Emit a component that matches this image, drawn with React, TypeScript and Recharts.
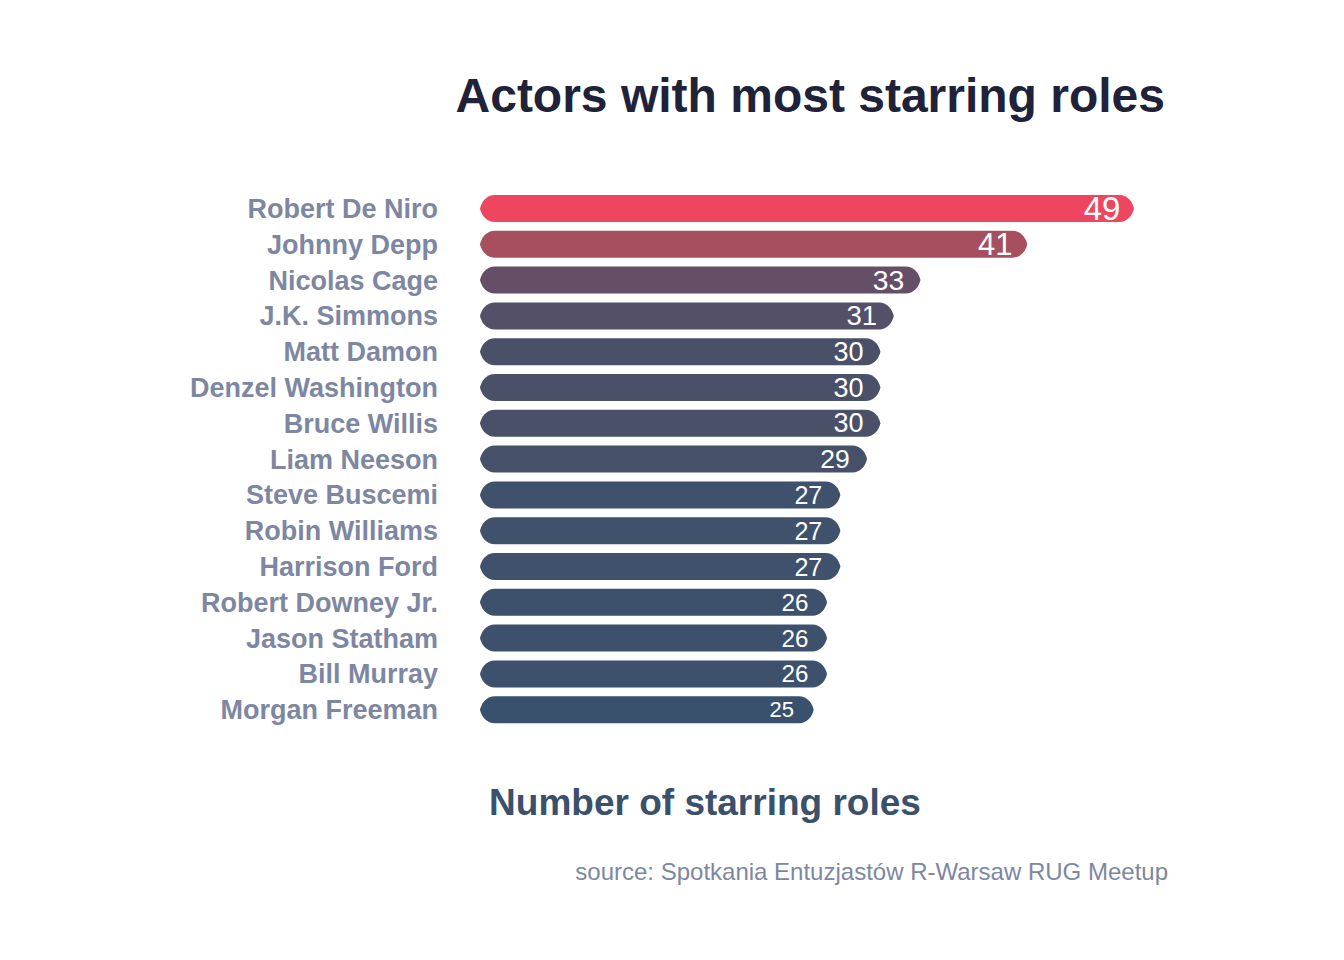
import React from "react";
import { BarChart, Bar, XAxis, YAxis, Cell } from "recharts";

const actors = [
  "Robert De Niro",
  "Johnny Depp",
  "Nicolas Cage",
  "J.K. Simmons",
  "Matt Damon",
  "Denzel Washington",
  "Bruce Willis",
  "Liam Neeson",
  "Steve Buscemi",
  "Robin Williams",
  "Harrison Ford",
  "Robert Downey Jr.",
  "Jason Statham",
  "Bill Murray",
  "Morgan Freeman",
];
const roles = [49, 41, 33, 31, 30, 30, 30, 29, 27, 27, 27, 26, 26, 26, 25];

const rows = actors.map((name, i) => ({ name, roles: roles[i] }));

const FONT = '"Liberation Sans", Arial, Helvetica, sans-serif';
const LABEL_GREY = "#7d87a2";

// fill gradient stops (value -> colour)
const STOPS: [number, string][] = [
  [25, "#3a516d"],
  [30, "#4a5068"],
  [33, "#654f66"],
  [41, "#a6505f"],
  [49, "#ee4660"],
];

const hex = (c: string) => [1, 3, 5].map((i) => parseInt(c.slice(i, i + 2), 16));

function fillFor(v: number) {
  for (let i = 0; i < STOPS.length - 1; i++) {
    const [v0, c0] = STOPS[i];
    const [v1, c1] = STOPS[i + 1];
    if (v <= v1) {
      const t = Math.max(0, (v - v0) / (v1 - v0));
      const a = hex(c0);
      const b = hex(c1);
      const m = a.map((x, k) => Math.round(x + (b[k] - x) * t));
      return `rgb(${m[0]},${m[1]},${m[2]})`;
    }
  }
  return STOPS[STOPS.length - 1][1];
}

const vMin = Math.min(...roles);
const vMax = Math.max(...roles);
// area-style size scale for the value labels
const labelSize = (v: number) => 22 + 11 * Math.sqrt((v - vMin) / (vMax - vMin));

/** Bar with pointed, rounded (ogive) ends on both sides. */
function PointedBar(props: any) {
  const { x, y, width, height, fill } = props;
  if (width <= 0) return null;
  const r = 15;
  const mid = y + height / 2;
  const b = y + height;
  const R = x + width;
  const d = [
    `M ${x + r} ${y}`,
    `L ${R - r} ${y}`,
    `C ${R - r * 0.4} ${y} ${R - r * 0.08} ${mid - height * 0.22} ${R} ${mid}`,
    `C ${R - r * 0.08} ${mid + height * 0.22} ${R - r * 0.4} ${b} ${R - r} ${b}`,
    `L ${x + r} ${b}`,
    `C ${x + r * 0.4} ${b} ${x + r * 0.08} ${mid + height * 0.22} ${x} ${mid}`,
    `C ${x + r * 0.08} ${mid - height * 0.22} ${x + r * 0.4} ${y} ${x + r} ${y}`,
    "Z",
  ].join(" ");
  return <path d={d} fill={fill} />;
}

function ValueLabel(props: any) {
  const { x, y, width, height, value } = props;
  return (
    <text
      x={x + width - 32}
      y={y + height / 2}
      textAnchor="middle"
      dominantBaseline="central"
      fill="#ffffff"
      fontFamily={FONT}
      fontSize={labelSize(value)}
    >
      {value}
    </text>
  );
}

function NameTick(props: any) {
  const { x, y, payload } = props;
  return (
    <text
      x={x}
      y={y}
      textAnchor="end"
      dominantBaseline="central"
      fill={LABEL_GREY}
      fontFamily={FONT}
      fontWeight="bold"
      fontSize={27}
    >
      {payload.value}
    </text>
  );
}

export default function App() {
  return (
    <div style={{ position: "absolute", left: 0, top: 0, width: 1344, height: 960, background: "#fff" }}>
      <BarChart
        width={1344}
        height={960}
        data={rows}
        layout="vertical"
        margin={{ top: 191, right: 210, bottom: 232, left: 0 }}
      >
        <XAxis type="number" domain={[0, vMax]} hide />
        <YAxis
          type="category"
          dataKey="name"
          width={480}
          axisLine={false}
          tickLine={false}
          tickSize={0}
          tickMargin={42}
          interval={0}
          tick={<NameTick />}
        />
        <Bar
          dataKey="roles"
          barSize={27}
          shape={<PointedBar />}
          label={<ValueLabel />}
          isAnimationActive={false}
        >
          {rows.map((r) => (
            <Cell key={r.name} fill={fillFor(r.roles)} />
          ))}
        </Bar>
      </BarChart>
      <svg
        width={1344}
        height={960}
        style={{ position: "absolute", left: 0, top: 0, pointerEvents: "none" }}
      >
        <text x={1165} y={112} textAnchor="end" fill="#20223a" fontFamily={FONT} fontWeight="bold" fontSize={48}>
          Actors with most starring roles
        </text>
        <text x={705} y={815} textAnchor="middle" fill="#3a506b" fontFamily={FONT} fontWeight="bold" fontSize={37}>
          Number of starring roles
        </text>
        <text x={1168} y={880} textAnchor="end" fill={LABEL_GREY} fontFamily={FONT} fontSize={24}>
          source: Spotkania Entuzjastów R-Warsaw RUG Meetup
        </text>
      </svg>
    </div>
  );
}
